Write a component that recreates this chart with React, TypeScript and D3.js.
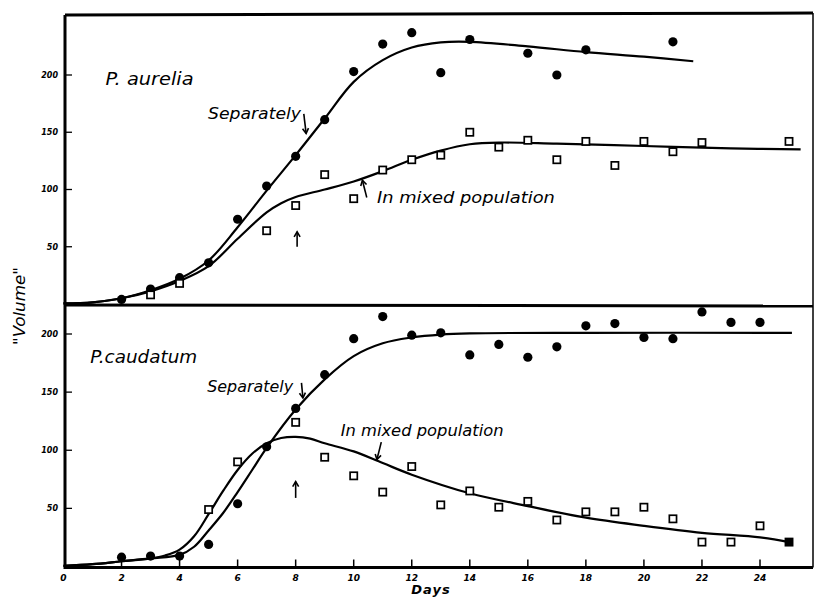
import React from "react";
import * as d3 from "d3";

// ---- data ----
const xTickValues = [0, 2, 4, 6, 8, 10, 12, 14, 16, 18, 20, 22, 24];
const yTickValues = [50, 100, 150, 200];

// P. aurelia, separately (filled dots)
const aureliaSepDays = [2, 3, 4, 5, 6, 7, 8, 9, 10, 11, 12, 13, 14, 16, 17, 18, 21];
const aureliaSepVals = [4, 13, 23, 36, 74, 103, 129, 161, 203, 227, 237, 202, 231, 219, 200, 222, 229];
// P. aurelia, mixed population (open squares)
const aureliaMixDays = [3, 4, 7, 8, 9, 10, 11, 12, 13, 14, 15, 16, 17, 18, 19, 20, 21, 22, 25];
const aureliaMixVals = [8, 18, 64, 86, 113, 92, 117, 126, 130, 150, 137, 143, 126, 142, 121, 142, 133, 141, 142];
// fitted curves
const aureliaSepCurveDays = [0, 1, 2, 3, 4, 5, 6, 7, 8, 9, 10, 11, 12, 13, 14, 16, 18, 20, 21.7];
const aureliaSepCurveVals = [0.5, 1.5, 5, 12, 22, 38, 67, 99, 130, 162, 194, 213, 224, 228.5, 229, 225, 220, 216, 212];
const aureliaMixCurveDays = [0, 1, 2, 3, 4, 5, 6, 7, 7.5, 8, 9, 10, 11, 12, 13, 14, 15, 17, 20, 23, 25.4];
const aureliaMixCurveVals = [0.5, 1.5, 5, 11, 20, 33, 57, 80, 88, 93.5, 100, 107, 116, 126, 134, 139.5, 141, 140, 138, 136, 135];

// P. caudatum, separately (filled dots)
const caudatumSepDays = [2, 3, 4, 5, 6, 7, 8, 9, 10, 11, 12, 13, 14, 15, 16, 17, 18, 19, 20, 21, 22, 23, 24];
const caudatumSepVals = [8, 9, 9, 19, 54, 103, 136, 165, 196, 215, 199, 201, 182, 191, 180, 189, 207, 209, 197, 196, 219, 210, 210];
// P. caudatum, mixed population (open squares)
const caudatumMixDays = [5, 6, 8, 9, 10, 11, 12, 13, 14, 15, 16, 17, 18, 19, 20, 21, 22, 23, 24, 25];
const caudatumMixVals = [49, 90, 124, 94, 78, 64, 86, 53, 65, 51, 56, 40, 47, 47, 51, 41, 21, 21, 35, 21];
// fitted curves
const caudatumSepCurveDays = [0, 1, 2, 3, 4, 4.5, 5, 5.5, 6, 6.5, 7, 8, 9, 10, 11, 12, 13, 14, 18, 25.1];
const caudatumSepCurveVals = [0.5, 2, 4.5, 7, 10, 17, 31, 46, 64, 83, 102, 135, 161, 181, 192, 197, 199.5, 200.5, 201, 201];
const caudatumMixCurveDays = [0, 1, 2, 3, 3.5, 4, 4.5, 5, 5.5, 6, 6.5, 7, 7.5, 8, 8.5, 9, 10, 11, 12, 14, 16, 18, 20, 22, 24, 25];
const caudatumMixCurveVals = [0.5, 2, 4.5, 7, 9.5, 14.5, 26, 45, 65, 83, 97, 106, 110.5, 111.5, 110, 106, 99, 89, 79, 63, 52, 42, 35, 29, 25, 21];

const zip = (a: number[], b: number[]) => a.map((d, i) => [d, b[i]] as [number, number]);

const FONT = "'DejaVu Sans', 'Liberation Sans', sans-serif";

export default function App() {
  const W = 816, H = 597;
  const left = 65, right = 813, top = 15, mid = 305, bottom = 567.5;

  const x = d3.scaleLinear().domain([0, 24]).range([63.5, 760]);
  const yTop = d3.scaleLinear().domain([0, 200]).range([304, 75]);
  const yBot = d3.scaleLinear().domain([0, 200]).range([566.5, 334]);

  const lineFor = (y: d3.ScaleLinear<number, number>) =>
    d3.line<[number, number]>().x(d => x(d[0])).y(d => y(d[1])).curve(d3.curveCatmullRom.alpha(0.5));

  const panels = [
    {
      y: yTop,
      sepPts: zip(aureliaSepDays, aureliaSepVals),
      mixPts: zip(aureliaMixDays, aureliaMixVals),
      sepCurve: zip(aureliaSepCurveDays, aureliaSepCurveVals),
      mixCurve: zip(aureliaMixCurveDays, aureliaMixCurveVals),
      filledLastSquare: false,
      labels: [
        { text: "P. aurelia", d: 1.45, v: 191, size: 18, len: 88 },
        { text: "Separately", d: 4.98, v: 162, size: 15, len: 93 },
        { text: "In mixed population", d: 10.8, v: 88, size: 15, len: 178 },
      ],
      arrows: [
        { d1: 8.28, v1: 166, d2: 8.36, v2: 149 },
        { d1: 10.45, v1: 93, d2: 10.3, v2: 108 },
        { d1: 8.05, v1: 50, d2: 8.05, v2: 63 },
      ],
    },
    {
      y: yBot,
      sepPts: zip(caudatumSepDays, caudatumSepVals),
      mixPts: zip(caudatumMixDays, caudatumMixVals),
      sepCurve: zip(caudatumSepCurveDays, caudatumSepCurveVals),
      mixCurve: zip(caudatumMixCurveDays, caudatumMixCurveVals),
      filledLastSquare: true,
      labels: [
        { text: "P.caudatum", d: 0.92, v: 175, size: 18, len: 107 },
        { text: "Separately", d: 4.95, v: 150, size: 15, len: 86 },
        { text: "In mixed population", d: 9.55, v: 112, size: 15, len: 163 },
      ],
      arrows: [
        { d1: 8.2, v1: 158, d2: 8.25, v2: 145 },
        { d1: 10.95, v1: 107, d2: 10.8, v2: 92 },
        { d1: 8.0, v1: 59, d2: 8.0, v2: 73 },
      ],
    },
  ];

  return (
    <svg width={W} height={H} style={{ position: "absolute", left: 0, top: 0, background: "#fff" }}>
      <defs>
        <marker id="ah" markerWidth="8" markerHeight="8" refX="6" refY="4" orient="auto" markerUnits="userSpaceOnUse">
          <path d="M1,1 L6,4 L1,7" fill="none" stroke="#000" strokeWidth={1.6} />
        </marker>
      </defs>

      {/* frame */}
      <line x1={left} x2={right} y1={top} y2={top - 2} stroke="#000" strokeWidth={3} />
      <line x1={right} x2={right} y1={top - 2} y2={bottom} stroke="#000" strokeWidth={1.5} />
      <line x1={left} x2={left} y1={top} y2={bottom + 1.5} stroke="#000" strokeWidth={3} />
      <line x1={left} x2={right} y1={mid} y2={mid + 1} stroke="#000" strokeWidth={3} />
      <line x1={left} x2={right} y1={bottom} y2={bottom} stroke="#000" strokeWidth={3} />

      {/* x ticks on bottom axis */}
      {xTickValues.map(t => (
        <g key={"xt" + t}>
          {t > 0 && <line x1={x(t)} x2={x(t)} y1={bottom - 8} y2={bottom} stroke="#000" strokeWidth={1.5} />}
          <text x={x(t)} y={581} textAnchor="middle" fontFamily={FONT} fontSize={9} fontStyle="italic" fontWeight="bold">
            {t}
          </text>
        </g>
      ))}
      <text x={431} y={594} textAnchor="middle" fontFamily={FONT} fontSize={13} fontStyle="italic" fontWeight="bold" letterSpacing={1}>
        Days
      </text>

      {/* y axis title */}
      <text
        transform={`translate(25,306) rotate(-90)`}
        textAnchor="middle"
        fontFamily={FONT}
        fontSize={15}
        fontStyle="italic"
        textLength={78}
        lengthAdjust="spacingAndGlyphs"
      >
        "Volume"
      </text>

      {panels.map((p, pi) => (
        <g key={"p" + pi}>
          {/* y ticks */}
          {yTickValues.map(t => (
            <g key={"yt" + t}>
              <line x1={left} x2={left + 7} y1={p.y(t)} y2={p.y(t)} stroke="#000" strokeWidth={1.3} />
              <text x={58} y={p.y(t)} dy="0.35em" textAnchor="end" fontFamily={FONT} fontSize={8} fontStyle="italic" fontWeight="bold">
                {t}
              </text>
            </g>
          ))}

          {/* curves */}
          <path d={lineFor(p.y)(p.sepCurve) || ""} fill="none" stroke="#000" strokeWidth={2.2} />
          <path d={lineFor(p.y)(p.mixCurve) || ""} fill="none" stroke="#000" strokeWidth={2.2} />

          {/* points */}
          {p.sepPts.map((d, i) => (
            <circle key={"s" + i} cx={x(d[0])} cy={p.y(d[1])} r={4.6} fill="#000" />
          ))}
          {p.mixPts.map((d, i) => {
            const last = p.filledLastSquare && i === p.mixPts.length - 1;
            return (
              <rect
                key={"m" + i}
                x={x(d[0]) - 3.6}
                y={p.y(d[1]) - 3.6}
                width={7.2}
                height={7.2}
                fill={last ? "#000" : "#fff"}
                stroke="#000"
                strokeWidth={1.7}
              />
            );
          })}

          {/* labels */}
          {p.labels.map((l, i) => (
            <text
              key={"l" + i}
              x={x(l.d)}
              y={p.y(l.v)}
              fontFamily={FONT}
              fontSize={l.size}
              fontStyle="italic"
              textLength={l.len}
              lengthAdjust="spacingAndGlyphs"
            >
              {l.text}
            </text>
          ))}

          {/* arrows */}
          {p.arrows.map((a, i) => (
            <line
              key={"a" + i}
              x1={x(a.d1)}
              y1={p.y(a.v1)}
              x2={x(a.d2)}
              y2={p.y(a.v2)}
              stroke="#000"
              strokeWidth={1.6}
              markerEnd="url(#ah)"
            />
          ))}
        </g>
      ))}
    </svg>
  );
}
